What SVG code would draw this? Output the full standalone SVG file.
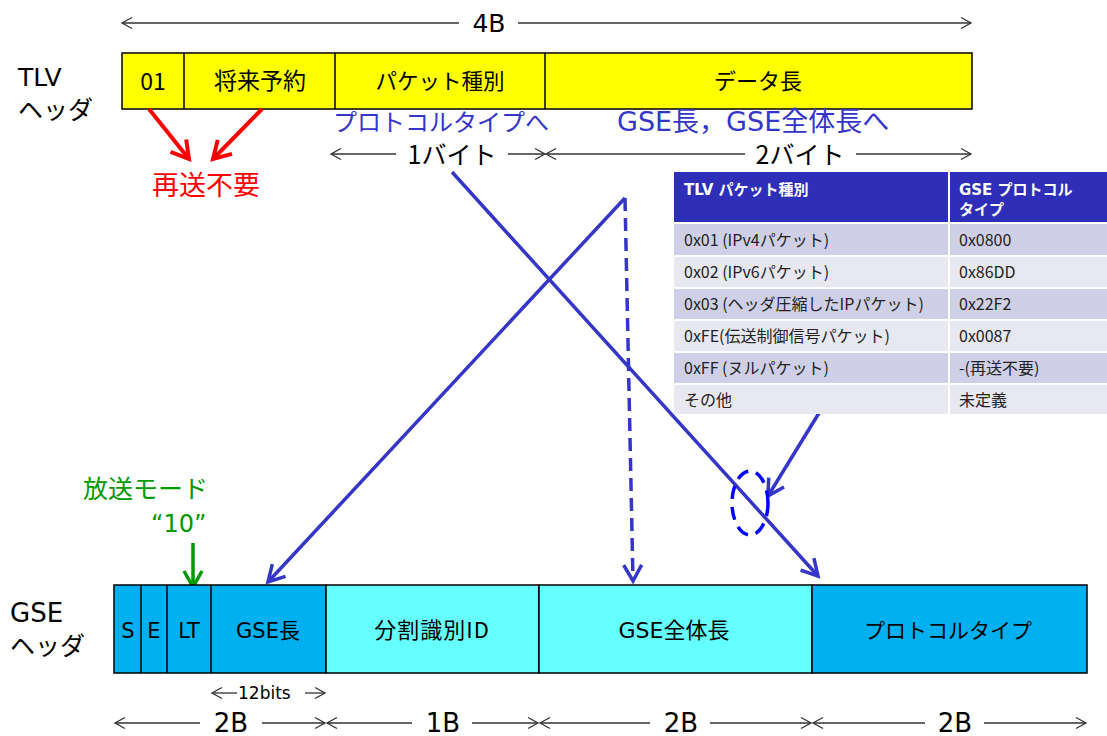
<svg xmlns="http://www.w3.org/2000/svg" width="1107" height="736" viewBox="0 0 1107 736">
<style>
text{font-family:"Noto Sans CJK JP","Noto Sans",sans-serif;fill:#000}
.l{font-family:"DejaVu Sans","Noto Sans CJK JP",sans-serif}
.c{text-anchor:middle}
.box{stroke:#000;stroke-width:1.5}
.dim{stroke:#333;stroke-width:1.3;fill:none}
.blue{stroke:#3535C8;stroke-width:3.5;fill:none}
.th{fill:#fff;font-weight:bold;font-size:15px;font-family:"DejaVu Sans","Noto Sans CJK JP",sans-serif}
.td{fill:#222;font-size:16px}
</style>
<defs>
<marker id="dh" markerUnits="userSpaceOnUse" markerWidth="14" markerHeight="14" refX="11" refY="7" orient="auto-start-reverse">
<path d="M1,1.5 L11,7 L1,12.5" fill="none" stroke="#333" stroke-width="1.3"/>
</marker>
<marker id="bh" markerUnits="userSpaceOnUse" markerWidth="24" markerHeight="24" refX="18" refY="12" orient="auto">
<path d="M2,3 L18,12 L2,21" fill="none" stroke="#3535C8" stroke-width="3.5"/>
</marker>
<marker id="rh" markerUnits="userSpaceOnUse" markerWidth="26" markerHeight="26" refX="19" refY="13" orient="auto">
<path d="M2,3 L19,13 L2,23" fill="none" stroke="#FF0000" stroke-width="4"/>
</marker>
<marker id="gh" markerUnits="userSpaceOnUse" markerWidth="24" markerHeight="24" refX="18" refY="12" orient="auto">
<path d="M2,3 L18,12 L2,21" fill="none" stroke="#009900" stroke-width="3.5"/>
</marker>
</defs>

<g id="dim-4B">
<line class="dim" x1="122" y1="23" x2="459" y2="23" marker-start="url(#dh)"/>
<line class="dim" x1="518" y1="23" x2="971" y2="23" marker-end="url(#dh)"/>
<text class="c l" x="489" y="32" font-size="25">4B</text>
</g>

<g id="tlv-label">
<text class="l" x="18" y="86" font-size="25">TLV</text>
<text x="18" y="119" font-size="25">ヘッダ</text>
</g>

<g id="tlv-header">
<rect class="box" x="122" y="53" width="850" height="56" fill="#FFFF00"/>
<line class="box" x1="184" y1="53" x2="184" y2="109"/>
<line class="box" x1="335" y1="53" x2="335" y2="109"/>
<line class="box" x1="545" y1="53" x2="545" y2="109"/>
<text class="c" x="153" y="90" font-size="23">01</text>
<text class="c" x="260" y="89" font-size="23">将来予約</text>
<text class="c" x="440" y="89" font-size="21.5">パケット種別</text>
<text class="c" x="758" y="89" font-size="22">データ長</text>
</g>

<g id="resend-note">
<line x1="149" y1="109" x2="189" y2="159" stroke="#FF0000" stroke-width="4" marker-end="url(#rh)"/>
<line x1="262" y1="109" x2="213" y2="159" stroke="#FF0000" stroke-width="4" marker-end="url(#rh)"/>
<text x="152" y="195" font-size="27" style="fill:#FF0000">再送不要</text>
</g>

<g id="blue-labels">
<text x="333" y="131" font-size="24" style="fill:#3535C8">プロトコルタイプへ</text>
<text class="l" x="617" y="131" font-size="27" style="fill:#3535C8">GSE長，GSE全体長へ</text>
</g>

<g id="dim-bytes">
<line class="dim" x1="331" y1="154" x2="396" y2="154" marker-start="url(#dh)"/>
<text class="c" x="452" y="164" font-size="25">1バイト</text>
<line class="dim" x1="508" y1="154" x2="545" y2="154" marker-end="url(#dh)"/>
<line class="dim" x1="546" y1="154" x2="745" y2="154" marker-start="url(#dh)"/>
<text class="c" x="800" y="164" font-size="25">2バイト</text>
<line class="dim" x1="856" y1="154" x2="971" y2="154" marker-end="url(#dh)"/>
</g>

<g id="mode-note">
<text x="83" y="498" font-size="25" style="fill:#009900">放送モード</text>
<text class="l" x="151" y="532" font-size="24" style="fill:#009900">“10”</text>
<line x1="193" y1="543" x2="193" y2="587" stroke="#009900" stroke-width="3.5" marker-end="url(#gh)"/>
</g>

<g id="gse-label">
<text class="l" x="10" y="622" font-size="26">GSE</text>
<text x="10" y="655" font-size="25">ヘッダ</text>
</g>

<g id="gse-header">
<rect class="box" x="114" y="585" width="212" height="88" fill="#00B0F0"/>
<rect class="box" x="326" y="585" width="213" height="88" fill="#66FFFF"/>
<rect class="box" x="539" y="585" width="273" height="88" fill="#66FFFF"/>
<rect class="box" x="812" y="585" width="275" height="88" fill="#00B0F0"/>
<line class="box" x1="141" y1="585" x2="141" y2="673"/>
<line class="box" x1="167" y1="585" x2="167" y2="673"/>
<line class="box" x1="211" y1="585" x2="211" y2="673"/>
<text class="c l" x="128" y="638" font-size="21">S</text>
<text class="c l" x="154" y="638" font-size="21">E</text>
<text class="c l" x="189" y="638" font-size="21">LT</text>
<text class="c l" x="268" y="638" font-size="21">GSE長</text>
<text class="c" x="432" y="638" font-size="22" letter-spacing="1">分割識別ID</text>
<text class="c l" x="674" y="638" font-size="22">GSE全体長</text>
<text class="c" x="948" y="638" font-size="21">プロトコルタイプ</text>
</g>

<g id="dim-12bits">
<line class="dim" x1="212" y1="693" x2="237" y2="693" marker-start="url(#dh)"/>
<text class="l" x="238" y="699" font-size="17">12bits</text>
<line class="dim" x1="305" y1="693" x2="325" y2="693" marker-end="url(#dh)"/>
</g>

<g id="dim-bottom">
<line class="dim" x1="115" y1="723" x2="200" y2="723" marker-start="url(#dh)"/>
<text class="c l" x="231" y="732" font-size="26">2B</text>
<line class="dim" x1="262" y1="723" x2="325" y2="723" marker-end="url(#dh)"/>
<line class="dim" x1="327" y1="723" x2="412" y2="723" marker-start="url(#dh)"/>
<text class="c l" x="443" y="732" font-size="26">1B</text>
<line class="dim" x1="472" y1="723" x2="538" y2="723" marker-end="url(#dh)"/>
<line class="dim" x1="540" y1="723" x2="650" y2="723" marker-start="url(#dh)"/>
<text class="c l" x="681" y="732" font-size="26">2B</text>
<line class="dim" x1="710" y1="723" x2="811" y2="723" marker-end="url(#dh)"/>
<line class="dim" x1="813" y1="723" x2="925" y2="723" marker-start="url(#dh)"/>
<text class="c l" x="955" y="732" font-size="26">2B</text>
<line class="dim" x1="984" y1="723" x2="1086" y2="723" marker-end="url(#dh)"/>
</g>

<g id="connectors">
<line class="blue" x1="452" y1="172" x2="818" y2="576" marker-end="url(#bh)"/>
<line class="blue" x1="625" y1="198" x2="268" y2="582" marker-end="url(#bh)"/>
<line class="blue" x1="625" y1="198" x2="633" y2="581" stroke-dasharray="13,7" marker-end="url(#bh)"/>
<line class="blue" x1="819" y1="413" x2="768" y2="496" marker-end="url(#bh)"/>
<ellipse cx="750" cy="503" rx="18" ry="32" fill="none" stroke="#0000FF" stroke-width="3.5" stroke-dasharray="13,8"/>
</g>

<g id="mapping-table">
<rect x="674" y="172" width="274" height="50" fill="#2E2EB8"/>
<rect x="950" y="172" width="157" height="50" fill="#2E2EB8"/>
<text class="th" x="684" y="195">TLV パケット種別</text>
<text class="th" x="959" y="195">GSE プロトコル</text>
<text class="th" x="959" y="215">タイプ</text>
<rect x="674" y="224" width="274" height="31" fill="#CFD0E7"/>
<rect x="950" y="224" width="157" height="31" fill="#CFD0E7"/>
<rect x="674" y="257" width="274" height="30" fill="#E8E8F2"/>
<rect x="950" y="257" width="157" height="30" fill="#E8E8F2"/>
<rect x="674" y="289" width="274" height="30" fill="#CFD0E7"/>
<rect x="950" y="289" width="157" height="30" fill="#CFD0E7"/>
<rect x="674" y="321" width="274" height="30" fill="#E8E8F2"/>
<rect x="950" y="321" width="157" height="30" fill="#E8E8F2"/>
<rect x="674" y="353" width="274" height="30" fill="#CFD0E7"/>
<rect x="950" y="353" width="157" height="30" fill="#CFD0E7"/>
<rect x="674" y="385" width="274" height="29" fill="#E8E8F2"/>
<rect x="950" y="385" width="157" height="29" fill="#E8E8F2"/>
<text class="td" x="684" y="246">0x01 (IPv4パケット)</text>
<text class="td" x="959" y="246">0x0800</text>
<text class="td" x="684" y="278">0x02 (IPv6パケット)</text>
<text class="td" x="959" y="278">0x86DD</text>
<text class="td" x="684" y="310">0x03 (ヘッダ圧縮したIPパケット)</text>
<text class="td" x="959" y="310">0x22F2</text>
<text class="td" x="684" y="342">0xFE(伝送制御信号パケット)</text>
<text class="td" x="959" y="342">0x0087</text>
<text class="td" x="684" y="374">0xFF (ヌルパケット)</text>
<text class="td" x="959" y="374">-(再送不要)</text>
<text class="td" x="684" y="406">その他</text>
<text class="td" x="959" y="406">未定義</text>
</g>
</svg>
